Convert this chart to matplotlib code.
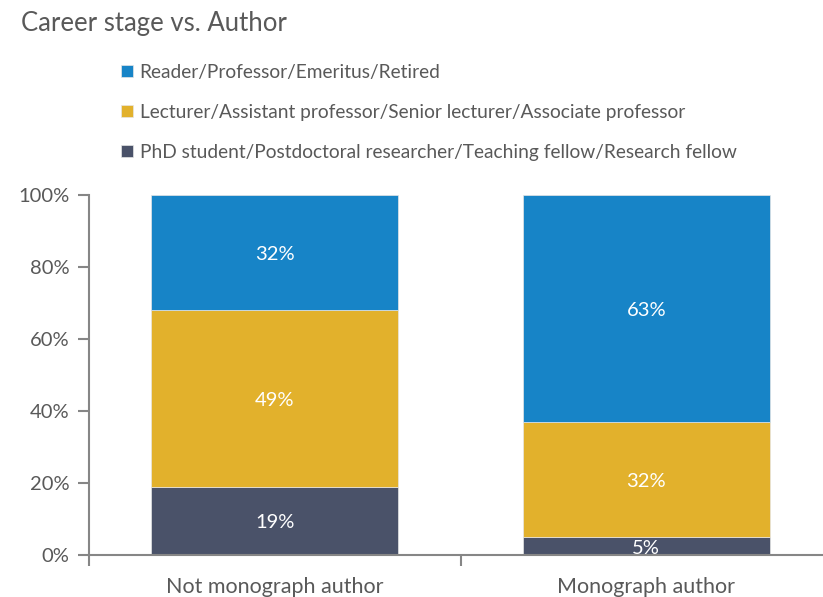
import matplotlib
matplotlib.use("Agg")
import matplotlib.pyplot as plt
import numpy as np

categories = ["Not monograph author", "Monograph author"]
series_names = [
    "PhD student/Postdoctoral researcher/Teaching fellow/Research fellow",
    "Lecturer/Assistant professor/Senior lecturer/Associate professor",
    "Reader/Professor/Emeritus/Retired",
]
phd = [19, 5]
lecturer = [49, 32]
reader = [32, 63]
yticks = [0, 20, 40, 60, 80, 100]

colors = ["#4a5269", "#e2b12c", "#1784c7"]
text_color = "#595959"
axis_color = "#868686"

plt.rcParams["font.family"] = ["Lato", "DejaVu Sans"]

fig = plt.figure(figsize=(8.23, 5.97), dpi=100)
ax = fig.add_axes([89 / 823, 42 / 597, 743 / 823, 360 / 597])

x = np.arange(len(categories))
bottom = np.zeros(len(categories))
handles = []
for vals, col, name in zip([phd, lecturer, reader], colors, series_names):
    bars = ax.bar(x, vals, bottom=bottom, width=0.665, color=col,
                  edgecolor="#e6e6e6", linewidth=0.5, label=name, zorder=2)
    handles.append(bars)
    for xi, b, v in zip(x, bottom, vals):
        ax.text(xi, b + v / 2 - 0.6, f"{v}%", ha="center", va="center",
                color="white", fontsize=14.5, zorder=3)
    bottom += np.array(vals)

ax.set_xlim(-0.5, 1.5)
ax.set_ylim(0, 100)
ax.set_yticks(yticks)
ax.set_yticklabels([f"{t}%" for t in yticks])
ax.set_xticks([-0.5, 0.5, 1.5])
ax.set_xticklabels([])
ax.set_xticks(x, minor=True)
ax.set_xticklabels(categories, minor=True)
ax.tick_params(axis="x", which="minor", length=0, pad=16, labelsize=15.5,
               labelcolor=text_color)
ax.tick_params(axis="x", which="major", length=8, width=1.5, color=axis_color)
ax.tick_params(axis="y", length=8, width=1.5, color=axis_color, labelsize=14.5,
               labelcolor=text_color, pad=6)

for s in ["top", "right"]:
    ax.spines[s].set_visible(False)
for s in ["left", "bottom"]:
    ax.spines[s].set_color(axis_color)
    ax.spines[s].set_linewidth(1.5)

fig.text(21 / 823, 1 - 23 / 597, "Career stage vs. Author", fontsize=18.5,
         color=text_color, ha="left", va="center")

leg = fig.legend(handles=handles[::-1], loc="upper left",
                 bbox_to_anchor=(121 / 823, 1 - 64 / 597), frameon=False,
                 fontsize=13.8, labelcolor=text_color, handlelength=0.62,
                 handleheight=0.62, handletextpad=0.35, labelspacing=1.2,
                 borderpad=0, borderaxespad=0)

fig.savefig("out.png", dpi=100)
